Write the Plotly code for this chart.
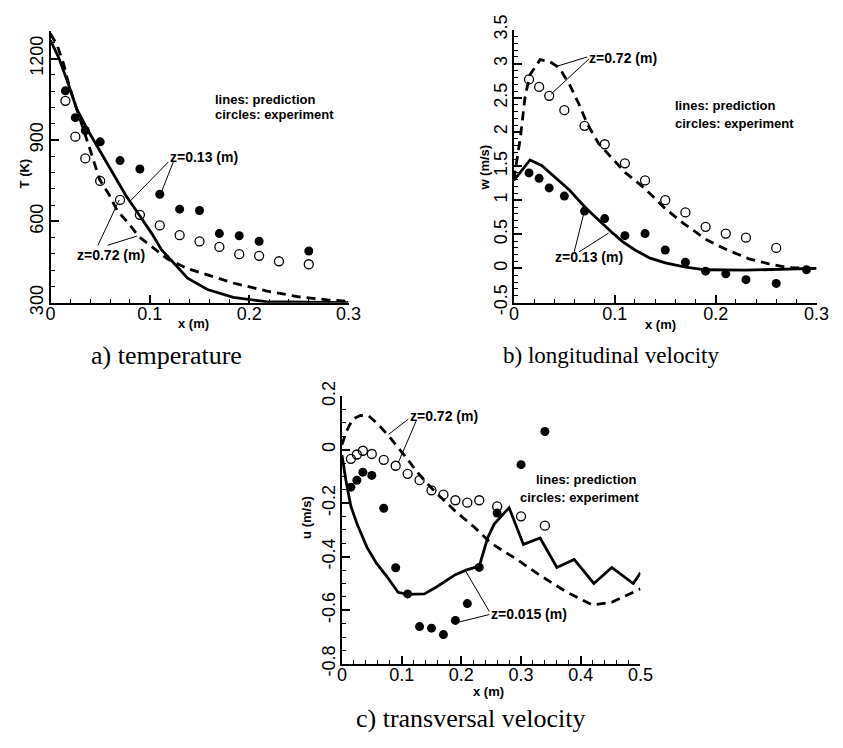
import plotly.graph_objects as go

# ---------------- (a) temperature ----------------
a_pred_013_x = [0, 0.0084, 0.0166, 0.0264, 0.0363, 0.0494, 0.0626, 0.0757, 0.0888, 0.102, 0.1117,
                0.1217, 0.138, 0.158, 0.184, 0.217, 0.25, 0.279, 0.3]
a_pred_013_T = [1267, 1202, 1120, 1014, 944, 861, 779, 696, 626, 555, 496,
                455, 391, 349, 320, 304, 302, 301, 301]
a_pred_072_x = [0, 0.0067, 0.0133, 0.0182, 0.0232, 0.033, 0.0412, 0.0494, 0.0593, 0.0675, 0.079,
                0.0888, 0.102, 0.118, 0.138, 0.158, 0.184, 0.217, 0.25, 0.279, 0.3]
a_pred_072_T = [1291, 1249, 1179, 1108, 1049, 944, 849, 755, 696, 638, 591,
                544, 508, 461, 426, 402, 373, 344, 322, 311, 305]
a_exp_013_x = [0.015, 0.025, 0.035, 0.05, 0.07, 0.09, 0.11, 0.13, 0.15, 0.17, 0.19, 0.21, 0.26]
a_exp_013_T = [1081, 982, 935, 893, 824, 793, 700, 645, 640, 555, 547, 527, 491]
a_exp_072_x = [0.015, 0.025, 0.035, 0.05, 0.07, 0.09, 0.11, 0.13, 0.15, 0.17, 0.19, 0.21, 0.23, 0.26]
a_exp_072_T = [1044, 912, 832, 749, 679, 624, 585, 549, 526, 506, 479, 473, 453, 442]

# ---------------- (b) longitudinal velocity ----------------
b_pred_013_x = [0, 0.016, 0.0275, 0.039, 0.055, 0.071, 0.087, 0.097, 0.108, 0.12, 0.135, 0.15,
                0.17, 0.19, 0.23, 0.26, 0.3]
b_pred_013_w = [1.29, 1.59, 1.51, 1.36, 1.15, 0.89, 0.66, 0.53, 0.39, 0.27, 0.15, 0.08,
                0.02, -0.02, -0.025, -0.015, 0.0]
b_pred_072_x = [0, 0.0065, 0.0113, 0.016, 0.026, 0.0356, 0.045, 0.055, 0.0647, 0.0727, 0.084,
                0.097, 0.11, 0.129, 0.149, 0.168, 0.191, 0.21, 0.233, 0.252, 0.272, 0.3]
b_pred_072_w = [1.3, 1.93, 2.54, 2.84, 3.06, 3.03, 2.94, 2.70, 2.40, 2.12, 1.83,
                1.62, 1.41, 1.18, 0.89, 0.66, 0.42, 0.28, 0.14, 0.07, 0.01, 0.0]
b_exp_013_x = [0.015, 0.025, 0.035, 0.05, 0.07, 0.09, 0.11, 0.13, 0.15, 0.17, 0.19, 0.21, 0.23, 0.26, 0.29]
b_exp_013_w = [1.40, 1.32, 1.18, 1.06, 0.84, 0.73, 0.48, 0.51, 0.27, 0.09, -0.04, -0.08, -0.165, -0.22, -0.02]
b_exp_072_x = [0.015, 0.025, 0.035, 0.05, 0.07, 0.09, 0.11, 0.13, 0.15, 0.17, 0.19, 0.21, 0.23, 0.26]
b_exp_072_w = [2.77, 2.66, 2.53, 2.32, 2.09, 1.82, 1.54, 1.29, 1.00, 0.82, 0.61, 0.51, 0.45, 0.30]

# ---------------- (c) transversal velocity ----------------
c_pred_0015_x = [0, 0.0066, 0.0148, 0.0257, 0.042, 0.058, 0.075, 0.094, 0.110, 0.138, 0.157, 0.19,
                 0.209, 0.23, 0.244, 0.255, 0.28, 0.304, 0.332, 0.36, 0.389, 0.422, 0.452, 0.488, 0.5]
c_pred_0015_u = [-0.02, -0.114, -0.21, -0.28, -0.365, -0.425, -0.473, -0.533, -0.541, -0.539, -0.515, -0.467,
                 -0.449, -0.435, -0.33, -0.278, -0.217, -0.354, -0.33, -0.44, -0.41, -0.50, -0.44, -0.50, -0.46]
c_pred_072_x = [0, 0.007, 0.018, 0.031, 0.045, 0.058, 0.075, 0.091, 0.108, 0.124, 0.14, 0.162,
                0.19, 0.222, 0.25, 0.293, 0.332, 0.375, 0.419, 0.452, 0.49, 0.5]
c_pred_072_u = [0.018, 0.066, 0.114, 0.128, 0.126, 0.10, 0.06, 0.018, -0.03, -0.078, -0.12, -0.17,
                -0.23, -0.29, -0.35, -0.41, -0.47, -0.53, -0.58, -0.57, -0.53, -0.52]
c_exp_0015_x = [0.015, 0.025, 0.035, 0.05, 0.07, 0.09, 0.11, 0.13, 0.15, 0.17, 0.19, 0.21, 0.23, 0.26, 0.30, 0.34]
c_exp_0015_u = [-0.14, -0.114, -0.084, -0.096, -0.219, -0.441, -0.539, -0.661, -0.667, -0.691, -0.638,
                -0.575, -0.44, -0.237, -0.056, 0.068]
c_exp_072_x = [0.015, 0.025, 0.035, 0.05, 0.07, 0.09, 0.11, 0.13, 0.15, 0.17, 0.19, 0.21, 0.23, 0.26, 0.30, 0.34]
c_exp_072_u = [-0.034, -0.018, -0.004, -0.016, -0.038, -0.06, -0.09, -0.114, -0.152, -0.168, -0.189,
               -0.198, -0.189, -0.212, -0.249, -0.284]

# ---------------- ticks ----------------
a_xtick0, a_xdtick, a_xminor = 0, 0.1, 0.02
a_ytick0, a_ydtick, a_yminor = 300, 300, 60
b_xtick0, b_xdtick, b_xminor = 0, 0.1, 0.02
b_ytick0, b_ydtick, b_yminor = -0.5, 0.5, 0.1
c_xtick0, c_xdtick, c_xminor = 0, 0.1, 0.02
c_ytick0, c_ydtick, c_yminor = -0.8, 0.2, 0.05
minus_alias = {"\u22120.5": "-0.5", "\u22120.2": "-0.2", "\u22120.4": "-0.4",
               "\u22120.6": "-0.6", "\u22120.8": "-0.8"}

# ---------------- layout helpers ----------------
FIG_W, FIG_H = 843, 748


def px_x(px):
    return px / FIG_W


def px_y(py):
    return 1 - py / FIG_H


SANS = "Liberation Sans, Arial, sans-serif"
SERIF = "Liberation Serif, Times New Roman, serif"
LW = 2.8
DASH = "9px,6px"

fig = go.Figure()


def add_panel(xr, yr, pred_solid, pred_dash, exp_fill, exp_open):
    fig.add_trace(go.Scatter(x=pred_solid[0], y=pred_solid[1], mode="lines", xaxis=xr, yaxis=yr,
                             line=dict(color="black", width=LW), showlegend=False, hoverinfo="skip"))
    fig.add_trace(go.Scatter(x=pred_dash[0], y=pred_dash[1], mode="lines", xaxis=xr, yaxis=yr,
                             line=dict(color="black", width=LW, dash=DASH), showlegend=False,
                             hoverinfo="skip"))
    fig.add_trace(go.Scatter(x=exp_fill[0], y=exp_fill[1], mode="markers", xaxis=xr, yaxis=yr,
                             marker=dict(symbol="circle", size=9, color="black"), showlegend=False))
    fig.add_trace(go.Scatter(x=exp_open[0], y=exp_open[1], mode="markers", xaxis=xr, yaxis=yr,
                             marker=dict(symbol="circle-open", size=9, color="black",
                                         line=dict(width=1.3, color="black")), showlegend=False))


add_panel("x", "y", (a_pred_013_x, a_pred_013_T), (a_pred_072_x, a_pred_072_T),
          (a_exp_013_x, a_exp_013_T), (a_exp_072_x, a_exp_072_T))
add_panel("x2", "y2", (b_pred_013_x, b_pred_013_w), (b_pred_072_x, b_pred_072_w),
          (b_exp_013_x, b_exp_013_w), (b_exp_072_x, b_exp_072_w))
add_panel("x3", "y3", (c_pred_0015_x, c_pred_0015_u), (c_pred_072_x, c_pred_072_u),
          (c_exp_0015_x, c_exp_0015_u), (c_exp_072_x, c_exp_072_u))


def axis(dom, rng, tick0, dtick, minor_dtick, anchor, is_y):
    d = dict(domain=dom, range=rng, anchor=anchor, showline=True, linewidth=2, linecolor="black",
             mirror=False, showgrid=False, zeroline=False, ticks="inside", ticklen=8, tickwidth=1.5,
             tickcolor="black", tickmode="linear", tick0=tick0, dtick=dtick,
             labelalias=minus_alias, ticklabelstandoff=-6,
             tickfont=dict(family=SANS, size=18, color="black"),
             minor=dict(ticks="inside", ticklen=4, tickwidth=1, tickcolor="black",
                        dtick=minor_dtick, tick0=tick0, showgrid=False))
    if is_y:
        d["tickangle"] = -90
        d["ticklabelstandoff"] = -2
    return d


# panel pixel boxes (page coordinates): left, right, top, bottom
A_BOX = (46.5, 351, 17, 299)
B_BOX = (520, 829.3, 15.2, 298.7)
C_BOX = (344.3, 649.3, 396, 674)


def xdom(box):
    return [px_x(box[0]), px_x(box[1])]


def ydom(box):
    return [px_y(box[3]), px_y(box[2])]


fig.update_layout(
    width=FIG_W, height=FIG_H, margin=dict(l=0, r=0, t=0, b=0),
    paper_bgcolor="white", plot_bgcolor="white", showlegend=False,
    xaxis=axis(xdom(A_BOX), [0, 0.3], a_xtick0, a_xdtick, a_xminor, "y", False),
    yaxis=axis(ydom(A_BOX), [300, 1300], a_ytick0, a_ydtick, a_yminor, "x", True),
    xaxis2=axis(xdom(B_BOX), [0, 0.3], b_xtick0, b_xdtick, b_xminor, "y2", False),
    yaxis2=axis(ydom(B_BOX), [-0.5, 3.5], b_ytick0, b_ydtick, b_yminor, "x2", True),
    xaxis3=axis(xdom(C_BOX), [0, 0.5], c_xtick0, c_xdtick, c_xminor, "y3", False),
    yaxis3=axis(ydom(C_BOX), [-0.8, 0.2], c_ytick0, c_ydtick, c_yminor, "x3", True),
)

# leader lines (data coordinates): (xref, yref, x0, y0, x1, y1)
leaders = [
    ("x", "y", 0.1187, 819, 0.080, 674),
    ("x", "y", 0.1236, 819, 0.111, 702),
    ("x", "y", 0.0478, 512, 0.0692, 679),
    ("x", "y", 0.0576, 512, 0.0872, 546),
    ("x2", "y2", 0.0727, 3.10, 0.042, 2.96),
    ("x2", "y2", 0.0744, 3.07, 0.0372, 2.56),
    ("x2", "y2", 0.0598, 0.244, 0.0695, 0.82),
    ("x2", "y2", 0.0647, 0.244, 0.0938, 0.516),
    ("x3", "y3", 0.111, 0.114, 0.078, 0.057),
    ("x3", "y3", 0.125, 0.111, 0.0945, -0.048),
    ("x3", "y3", 0.247, -0.605, 0.206, -0.449),
    ("x3", "y3", 0.247, -0.616, 0.196, -0.644),
]
shapes = [dict(type="line", xref=xr, yref=yr, x0=x0, y0=y0, x1=x1, y1=y1,
               line=dict(color="black", width=1)) for xr, yr, x0, y0, x1, y1 in leaders]
fig.update_layout(shapes=shapes)

annotations = []


def label(text, xr, yr, x, y, size=14, xanchor="left"):
    annotations.append(dict(text="<b>%s</b>" % text, xref=xr, yref=yr, x=x, y=y, showarrow=False,
                            xanchor=xanchor, yanchor="middle",
                            font=dict(family=SANS, size=size, color="black")))


def paper_text(text, px, py, size, family, angle=0, bold=False, xanchor="center"):
    annotations.append(dict(text=("<b>%s</b>" % text) if bold else text, xref="paper", yref="paper",
                            x=px_x(px), y=px_y(py), showarrow=False, xanchor=xanchor,
                            yanchor="middle", textangle=angle,
                            font=dict(family=family, size=size, color="black")))


# curve labels
label("z=0.13 (m)", "x", "y", 0.1187, 836)
label("z=0.72 (m)", "x", "y", 0.025, 476)
label("z=0.72 (m)", "x2", "y2", 0.0727, 3.09)
label("z=0.13 (m)", "x2", "y2", 0.0388, 0.16)
label("z=0.72 (m)", "x3", "y3", 0.111, 0.125)
label("z=0.015 (m)", "x3", "y3", 0.247, -0.613)
# legend-like text
paper_text("<b>lines: prediction</b>", 213, 88, 13, SANS, xanchor="left")
paper_text("<b>circles: experiment</b>", 213, 103, 13, SANS, xanchor="left")
paper_text("<b>lines: prediction</b>", 683, 94, 13, SANS, xanchor="left")
paper_text("<b>circles: experiment</b>", 683, 113, 13, SANS, xanchor="left")
paper_text("<b>lines: prediction</b>", 647, 483, 13, SANS, xanchor="right")
paper_text("<b>circles: experiment</b>", 650, 501, 13, SANS, xanchor="right")

# axis titles
paper_text("x (m)", 193, 321, 13, SANS, bold=True)
paper_text("T (K)", 20, 165, 13, SANS, angle=-90, bold=True)
paper_text("x (m)", 670, 322, 13, SANS, bold=True)
paper_text("w (m/s)", 489, 159, 13, SANS, angle=-90, bold=True)
paper_text("x (m)", 494, 703, 13, SANS, bold=True)
paper_text("u (m/s)", 308, 522, 13, SANS, angle=-90, bold=True)
# captions
paper_text("a) temperature", 165, 354, 26, SERIF)
paper_text("b) longitudinal velocity", 619, 354, 23, SERIF)
paper_text("c) transversal velocity", 476, 731, 26, SERIF)

fig.update_layout(annotations=annotations)

fig.write_html("out.html", config={"displayModeBar": False},
               post_script="document.body.style.margin='0px';")
